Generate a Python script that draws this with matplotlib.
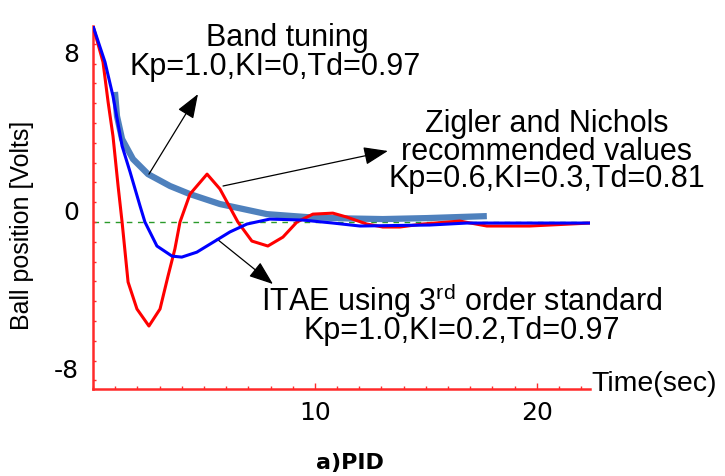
import matplotlib
matplotlib.use("Agg")
import matplotlib.pyplot as plt
from matplotlib.ticker import MultipleLocator, FixedLocator
from matplotlib.transforms import ScaledTranslation

# ZN / red response
t_zn = [0.0, 0.45, 0.68, 0.9, 1.13, 1.31, 1.58, 1.98, 2.52, 3.02, 3.38, 3.69, 3.92,
        4.37, 5.14, 5.72, 6.53, 7.16, 7.88, 8.56, 9.19, 9.91, 10.81, 11.44, 12.34,
        13.06, 13.83, 14.86, 16.53, 17.75, 19.68, 22.4]
y_zn = [9.9, 8.08, 6.06, 4.34, 1.82, 0.0, -3.03, -4.39, -5.25, -4.39, -2.73, -1.36, 0.0,
        1.41, 2.42, 1.67, 0.0, -0.96, -1.21, -0.76, 0.0, 0.4, 0.45, 0.25, -0.1,
        -0.25, -0.25, -0.1, 0.05, -0.2, -0.2, -0.05]

# ITAE / blue response
t_itae = [0.0, 0.54, 0.9, 1.31, 1.67, 2.12, 2.34, 2.88, 3.56, 4.0, 4.68, 5.5, 6.17,
          6.94, 7.97, 9.46, 10.81, 12.03, 15.18, 16.85, 22.4]
y_itae = [9.9, 8.08, 6.36, 3.84, 2.53, 0.81, 0.0, -1.21, -1.72, -1.77, -1.52, -0.96, -0.5,
          -0.1, 0.15, 0.1, -0.05, -0.2, -0.15, -0.05, -0.05]

# band tuning / thick steel-blue response
t_band = [0.99, 1.08, 1.31, 1.8, 2.48, 3.47, 4.37, 5.72, 7.84, 9.64, 11.58, 13.06,
          15.05, 16.4, 17.75]
y_band = [6.57, 5.35, 4.19, 3.18, 2.42, 1.82, 1.41, 0.91, 0.4, 0.25, 0.18, 0.15,
          0.2, 0.25, 0.3]

ytick_vals = [-8, 0, 8]
xtick_vals = [10, 20]

plt.rcParams["font.family"] = ["Liberation Sans", "DejaVu Sans"]
plt.rcParams["mathtext.fontset"] = "custom"
plt.rcParams["mathtext.rm"] = "Liberation Sans"

fig = plt.figure(figsize=(7.25, 4.77), dpi=100)
ax = fig.add_axes([0.1283, 0.1824, 0.6855, 0.761])
ax.set_xlim(0, 22.4)
ax.set_ylim(-8.43, 9.9)

for s in ["top", "right"]:
    ax.spines[s].set_visible(False)
for s in ["left", "bottom"]:
    ax.spines[s].set_color("#ff2a2a")
    ax.spines[s].set_linewidth(1.8)

ax.axhline(0, color="#2a9a2a", ls=(0, (4, 4)), lw=1, zorder=1)
ax.plot(t_band, y_band, color="#4f81bd", lw=4.5, solid_capstyle="butt", zorder=2)
ax.plot(t_zn, y_zn, color="#ff0000", lw=2.2, zorder=3)
ax.plot(t_itae, y_itae, color="#0000ff", lw=2.2, zorder=4)

# ticks
ax.xaxis.set_major_locator(FixedLocator(xtick_vals))
ax.xaxis.set_minor_locator(MultipleLocator(1))
ax.yaxis.set_major_locator(FixedLocator(ytick_vals))
ax.yaxis.set_minor_locator(MultipleLocator(1))
ax.tick_params(axis="x", which="major", direction="in", length=4, width=1,
               color="#ff2a2a", labelsize=18, pad=8)
ax.tick_params(axis="x", which="minor", direction="in", length=2.2, width=1,
               color="#ff2a2a")
ax.tick_params(axis="y", which="both", direction="in", length=2.5, width=1,
               color="#ff2a2a", labelsize=18, pad=10)
ax.set_xticklabels([str(v) for v in xtick_vals], family="DejaVu Sans")
ax.set_yticklabels([str(v) for v in ytick_vals], family="DejaVu Sans")
shift = ScaledTranslation(0, 9 / 72, fig.dpi_scale_trans)
for tk in ax.yaxis.get_major_ticks():
    tk.label1.set_transform(tk.label1.get_transform() + shift)

# annotations
arrow = dict(arrowstyle="-|>,head_length=0.75,head_width=0.28", color="black",
             lw=0.9, shrinkA=0, shrinkB=0, mutation_scale=20)
ax.annotate("", xy=(4.73, 6.46), xytext=(2.52, 2.42), arrowprops=arrow)
ax.annotate("", xy=(13.29, 3.59), xytext=(5.86, 1.82), arrowprops=arrow)
ax.annotate("", xy=(8.11, -3.13), xytext=(5.59, -0.86), arrowprops=arrow)

tkw = dict(fontsize=22, ha="center", va="center", clip_on=False)
ax.text(8.74, 9.34, "Band tuning", **tkw)
ax.text(8.2, 7.88, "Kp=1.0,KI=0,Td=0.97", **tkw)
ax.text(20.45, 3.6, "Zigler and Nichols\nrecommended values\nKp=0.6,KI=0.3,Td=0.81",
        multialignment="center", linespacing=0.9, **tkw)
ax.text(16.6, -4.57, "ITAE using 3$^{\\rm rd}$ order standard\nKp=1.0,KI=0.2,Td=0.97",
        multialignment="center", linespacing=0.82, **tkw)

ax.text(22.48, -8.13, "Time(sec)", fontsize=20.5, ha="left", va="center", clip_on=False)
fig.text(22 / 725, 1 - 225 / 477, "Ball position [Volts]", rotation=90,
         ha="center", va="center", fontsize=18)
fig.text(350 / 725, 1 - 463 / 477, "a)PID", fontsize=16, fontweight="bold",
         family="DejaVu Sans", ha="center", va="center")

fig.savefig("out.png", dpi=100)
